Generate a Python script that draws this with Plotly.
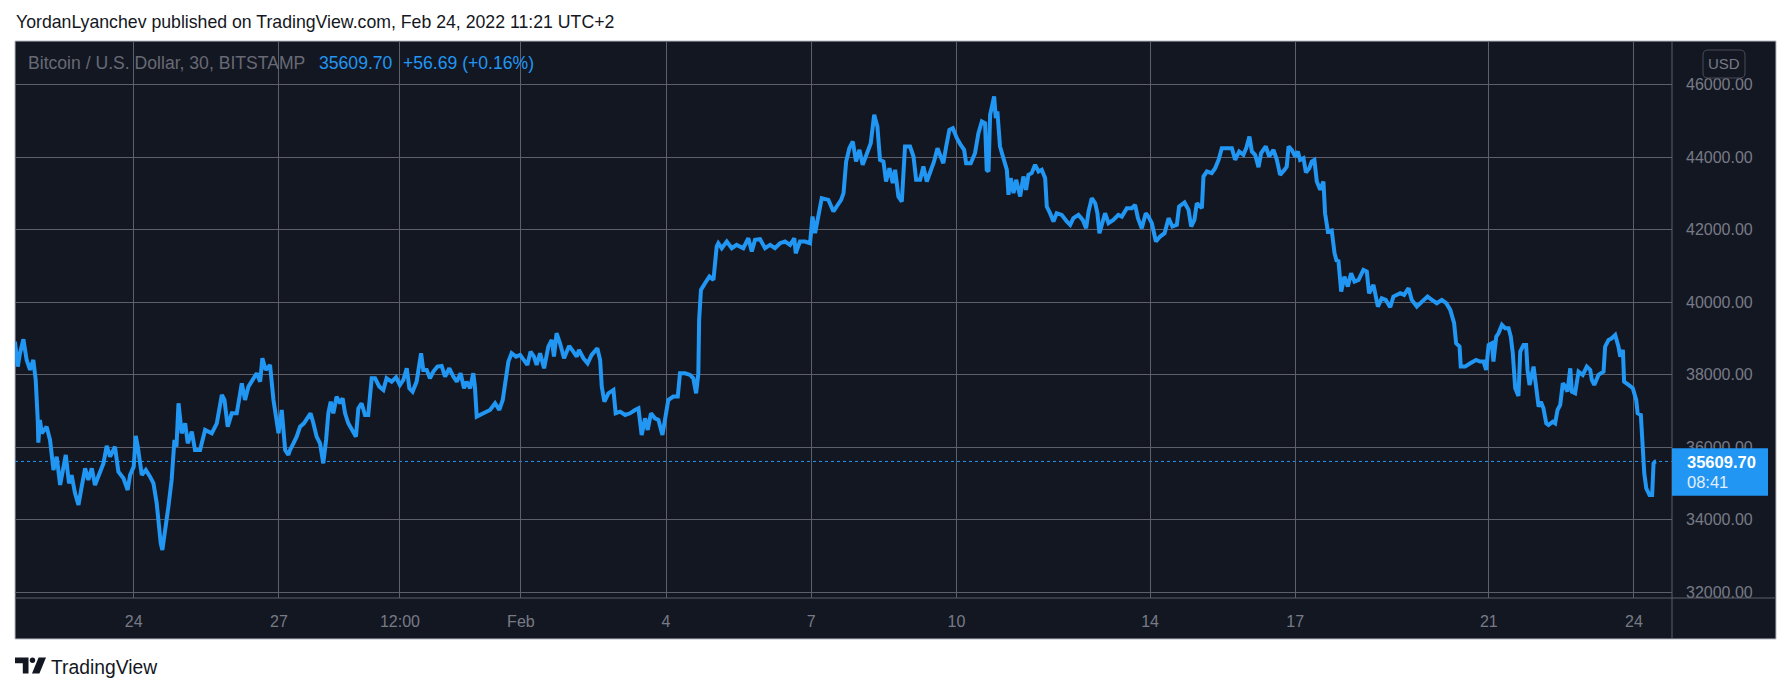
import numpy as np
import pandas as pd
import plotly.graph_objects as go

# ---------------- data (BTC/USD, 30m, Bitstamp) ----------------
base_time = "2022-01-24 00:00"
# hours relative to base_time
hours = [
    -58.9, -57.5, -56.4, -54.7, -53.1, -51.4, -49.8, -48.6, -47.6, -47.3, -46.5, -45.6, -43.2, -41.5,
    -39.8, -38.2, -36.5, -34.9, -33.7, -32.1, -30.8, -29.1, -27.4, -25.8, -24.1, -22.5, -20.8, -19.2,
    -16.7, -15.0, -13.4, -11.7, -9.3, -7.6, -5.1, -3.0, -1.8, 0.0, 1.0, 2.0, 4.0, 6.0, 8.1, 9.8,
    11.4, 12.2, 13.4, 14.2, 15.5, 17.2, 18.8, 20.2, 21.2, 22.2, 23.8, 25.5, 26.8, 28.8, 30.4, 32.9,
    35.4, 38.7, 41.2, 43.7, 45.0, 46.6, 48.6, 51.1, 53.6, 55.2, 56.9, 58.9, 61.0, 62.7, 63.8, 65.5,
    67.6, 69.3, 70.4, 71.8, 73.4, 74.2, 75.1, 76.7,
    77.5, 79.2, 80.8, 82.5, 84.4, 86.6, 87.7, 89.1, 90.7, 92.4, 94.0, 95.4, 96.5, 97.7, 99.0, 100.6,
    102.3, 103.6, 104.8, 106.4, 108.6, 110.2, 111.4, 113.0, 114.7, 116.3, 118.0, 119.7, 121.8, 123.8,
    125.4, 127.9, 130.1, 132.0, 133.7, 135.4, 136.7, 138.3, 140.3, 141.1, 142.5, 143.6, 145.3, 146.9,
    148.6, 150.6, 152.7, 154.4, 156.5, 158.5, 160.2, 162.1, 163.8, 165.1, 166.8, 168.4, 169.2, 170.1,
    171.7, 174.2, 176.7, 179.2, 181.3, 183.0, 184.1, 185.8, 187.4, 189.6, 191.6, 193.2, 195.2, 196.8,
    198.5, 199.8, 201.5, 203.5, 205.6, 207.3, 208.4, 209.7, 211.4, 213.4,
    215.9, 218.0, 219.7, 220.8, 223.0, 225.1, 227.1, 229.9, 231.3, 232.1, 233.4, 235.4, 237.9, 239.0,
    241.2, 243.7, 246.1, 248.6, 250.3, 251.9, 253.6, 254.9, 256.5, 258.5, 260.2, 262.2, 263.5, 265.1,
    267.6, 269.8, 270.9, 273.4, 275.9, 277.5, 278.9, 280.0, 280.4, 281.3, 283.3, 285.5, 287.5, 289.1,
    289.9, 291.6, 294.1, 296.6, 299.0, 302.3, 304.8, 306.5, 308.1, 310.6, 313.1, 315.6, 318.0, 320.5,
    323.0, 325.5, 327.6, 328.3, 330.4, 332.9, 335.4, 336.6, 337.9, 339.5, 341.2, 344.5, 347.0, 348.6,
    350.8,
    352.0, 353.3, 354.9, 356.6, 358.2, 359.9, 361.5, 363.5, 365.5, 367.2, 368.8, 370.1, 371.8, 373.1,
    374.8, 376.4, 377.6, 379.2, 380.9, 382.5, 385.0, 386.7, 388.0, 390.0, 391.6, 393.3, 395.3, 396.9,
    398.6, 400.2, 401.5, 402.9, 404.5, 406.2, 408.2, 410.1, 411.8, 412.8, 415.1, 417.2, 418.9, 420.6,
    422.2, 423.0, 423.9, 424.7, 425.8, 426.7, 427.5, 428.3, 429.6, 431.3, 433.0, 433.8, 434.9, 436.3,
    437.6, 439.6, 441.2, 442.5, 443.7, 445.3, 447.0, 448.7, 450.3, 452.0, 452.8, 454.4, 456.1, 457.7,
    460.2, 462.7, 464.4, 466.0, 468.5, 470.6, 472.3, 473.5, 475.1, 476.8, 477.9, 478.9, 480.1, 481.7,
    483.4, 485.8, 488.3, 490.0,
    492.5, 495.0, 496.6, 498.0, 499.9, 501.9, 503.2, 504.9, 506.9, 509.0, 511.2, 513.2, 515.1, 517.3,
    518.4, 521.1, 523.1, 524.4, 526.0, 527.2, 529.7, 530.5, 532.2, 534.6, 536.3, 538.0, 539.6, 542.1,
    544.6, 546.2, 548.2, 550.3, 551.7, 553.3, 554.5, 556.1, 557.8, 559.1, 561.4, 563.1, 565.2, 566.9,
    568.5, 570.7, 571.8, 572.7, 574.3, 576.0, 577.3, 578.4, 580.1, 581.3, 583.0, 584.2, 585.5, 586.7,
    588.4, 590.0, 590.8, 592.2, 594.1, 595.5, 596.6, 597.4, 598.8, 600.4, 602.1, 603.7, 605.4, 607.4,
    609.8, 611.5, 612.6, 614.8, 617.0, 618.9, 620.9, 623.1, 624.7,
    628.1, 630.0, 632.2, 633.8, 636.3, 638.3, 639.6, 641.6, 643.8, 646.2, 648.7, 650.9, 652.9, 654.8,
    655.8, 657.5, 658.1, 660.3, 662.8, 665.7, 667.7, 669.4, 670.7, 671.9, 673.5, 674.3, 675.7, 676.8,
    678.5, 680.1, 681.8, 682.9, 683.9, 685.1, 686.7, 687.6, 689.2, 690.5, 691.2, 692.2, 694.2, 695.5,
    696.7, 697.8, 699.1, 700.5, 701.6, 703.8, 704.9, 706.1, 707.4, 708.7, 709.9, 711.0, 712.4, 713.2,
    714.8, 716.5, 718.6, 720.6, 722.3, 723.1, 724.3, 726.4, 728.9, 729.7, 731.4, 733.0, 734.7, 736.3,
    737.2, 738.5, 739.1, 741.3, 743.4, 745.1, 745.8, 747.4, 748.4, 749.1, 750.1, 751.7, 753.0, 753.7,
    754.5, 755.0,
]
prices = [
    38916, 38226, 38594, 38981, 38410, 38134, 38410, 37858, 36754, 36129, 36754, 36386, 36570, 36202,
    35374, 35742, 34960, 35466, 35788, 35006, 35236, 34730, 34408, 34914, 35420, 35098, 35420, 34960,
    35282, 35558, 36037, 35742, 36018, 35328, 35144, 34822, 35236, 35466, 36313, 36018, 35236, 35374,
    35190, 35006, 34454, 33902, 33350, 33166, 33626, 34362, 35098, 36202, 36018, 37214, 36386, 36662,
    36110, 36432, 35926, 35926, 36478, 36386, 36662, 37444, 37306, 36570, 36938, 36938, 37766, 37306,
    37674, 37858, 38042, 37812, 38456, 38134, 38272, 37306, 36938, 36386, 37030, 36386, 35926, 35788,
    35926, 36110, 36294, 36570, 36662, 36846, 36938, 36662, 36294, 36110, 35558, 36202, 36938, 37260,
    36938, 37398, 37214, 37352, 36938, 36662, 36478, 36294, 37076, 37214, 36892, 36892, 37904, 37904,
    37674, 37582, 37904, 37812, 37932, 37720, 37858, 38180, 37628, 37536, 37812, 38134, 38594, 38134,
    38134, 37904, 38088, 38226, 38244, 37950, 38180, 37950, 37812, 38042, 37628, 37812, 37628, 38042,
    37674, 36846, 36892, 36984, 37030, 37214, 37030, 37306, 37766, 38364, 38594, 38502, 38548, 38410,
    38272, 38640, 38502, 38272, 38594, 38180, 38778, 38962, 38502, 39146, 38870, 38456,
    38797, 38640, 38502, 38686, 38456, 38318, 38548, 38732, 38410, 37674, 37260, 37490, 37582, 36938,
    36984, 36892, 36938, 37030, 37076, 36340, 36800, 36478, 36938, 36800, 36754, 36340, 36846, 37306,
    37398, 37398, 38042, 38042, 37996, 37904, 37490, 38042, 39514, 40342, 40526, 40710, 40618, 41538,
    41630, 41492, 41676, 41492, 41584, 41492, 41768, 41400, 41722, 41740, 41492, 41584, 41492, 41630,
    41676, 41584, 41768, 41354, 41676, 41676, 41630, 42366, 41906, 42458, 42872, 42826, 42504, 42642,
    42826,
    43010, 43884, 44252, 44436, 43884, 44206, 43792, 44068, 44390, 45172, 44850, 43930, 43884, 43332,
    43700, 43286, 43654, 42918, 42780, 44298, 44298, 44022, 43378, 43378, 43746, 43332, 43654, 43884,
    44252, 44022, 43838, 44298, 44758, 44804, 44528, 44344, 44206, 43838, 43838, 44114, 44666, 44988,
    44942, 43654, 43608, 45172, 45494, 45678, 45080, 45264, 44298, 43976, 43654, 42964, 43424, 43010,
    43378, 42918, 43470, 43102, 43516, 43562, 43792, 43608, 43654, 43424, 42642, 42458, 42228, 42458,
    42412, 42228, 42136, 42320, 42412, 42274, 42044, 42504, 42872, 42734, 42458, 41906, 42182, 42458,
    42182, 42274, 42412, 42366,
    42596, 42596, 42688, 42320, 42044, 42458, 42366, 42182, 41676, 41814, 41906, 42320, 42090, 42136,
    42642, 42753, 42550, 42090, 42274, 42734, 42596, 43470, 43608, 43562, 43700, 43930, 44252, 44252,
    44252, 43930, 44160, 44068, 44252, 44574, 44160, 44068, 43728, 44114, 44298, 44022, 44206, 43930,
    43516, 43654, 43746, 44298, 44206, 44022, 44160, 43930, 43976, 43581, 43700, 43884, 43930, 43332,
    43102, 43332, 42458, 41952, 41980, 41354, 41124, 41170, 40294, 40710, 40434, 40802, 40572, 40618,
    40894, 40848, 40250, 40480, 39882, 40112, 40066, 39864, 40158,
    40250, 40204, 40388, 40066, 39882, 39974, 40066, 40158, 40066, 39974, 40066, 39974, 39790, 39422,
    38870, 38778, 38226, 38226, 38318, 38410, 38364, 38364, 38134, 38824, 38870, 38364, 39054, 39146,
    39376, 39284, 39284, 39054, 38594, 37628, 37417, 38640, 38824, 38824, 38134, 37720, 38226, 37582,
    37122, 37260, 37076, 36662, 36616, 36708, 36662, 37030, 37168, 37766, 37674, 37536, 38180, 37536,
    37490, 38088, 37996, 38226, 38134, 37858, 37720, 37996, 38088, 38778, 38962, 39008, 39100, 38778,
    38502, 38686, 37812, 37720, 37628, 37306, 36938, 36892, 36018, 35282, 34868, 34684, 34684, 35558,
    35604, 35609.70,
]
x_tick_dates = ["2022-01-24 00:00", "2022-01-27 00:00", "2022-01-29 12:00", "2022-02-01 00:00",
                "2022-02-04 00:00", "2022-02-07 00:00", "2022-02-10 00:00", "2022-02-14 00:00",
                "2022-02-17 00:00", "2022-02-21 00:00", "2022-02-24 00:00"]
x_tick_text = ["24", "27", "12:00", "Feb", "4", "7", "10", "14", "17", "21", "24"]
y_ticks = [32000, 34000, 36000, 38000, 40000, 42000, 44000, 46000]

header_text = "YordanLyanchev published on TradingView.com, Feb 24, 2022 11:21 UTC+2"
symbol_text = "Bitcoin / U.S. Dollar, 30, BITSTAMP"
change_text = "+56.69 (+0.16%)"
countdown_text = "08:41"
currency_text = "USD"

# ---------------- figure ----------------
# The page body has an 8px margin; the figure is sized so that page coordinates match the reference.
OFF = 8
W, H = 1791 - 2 * OFF, 693 - 2 * OFF
L, R, T, B = 15, 1672, 41, 598  # plot area in page pixels

def px(x):
    return (x - L) / (R - L)

def py(y):
    return (B - y) / (B - T)

t0 = pd.Timestamp(base_time)
times = t0 + pd.to_timedelta(np.array(hours), unit="h")
last_price = prices[-1]

BG = "#131722"
BLUE = "#2196f3"
GRID = "#5d606b"
TXT = "#787b86"
FONT = "Liberation Sans"

fig = go.Figure()
fig.add_trace(go.Scatter(x=times, y=prices, mode="lines",
                         line=dict(color=BLUE, width=4), hoverinfo="skip", showlegend=False))

x_range = [t0 + pd.Timedelta(hours=-58.875), t0 + pd.Timedelta(hours=762.85)]

fig.update_layout(
    width=W, height=H,
    margin=dict(l=L - OFF, r=(W + OFF) - R, t=T - OFF, b=(H + OFF) - B, pad=0),
    paper_bgcolor="white", plot_bgcolor=BG,
    showlegend=False,
    font=dict(family=FONT, color=TXT),
    xaxis=dict(range=x_range, type="date", tickvals=list(pd.to_datetime(x_tick_dates, format="%Y-%m-%d %H:%M")),
               ticktext=x_tick_text,
               showgrid=True, gridcolor=GRID, gridwidth=1, zeroline=False, showline=False,
               ticks="", tickfont=dict(size=16, color=TXT, family=FONT), ticklabelstandoff=12,
               fixedrange=True),
    yaxis=dict(range=[31843, 47208], side="right", tickvals=y_ticks, tickformat=".2f",
               showgrid=True, gridcolor=GRID, gridwidth=1, zeroline=False, showline=False,
               ticks="", tickfont=dict(size=16, color=TXT, family=FONT), ticklabelstandoff=13,
               fixedrange=True),
)

shapes = []
# dark panel with light frame
shapes.append(dict(type="rect", xref="paper", yref="paper", x0=px(15), x1=px(1776), y0=py(639), y1=py(41),
                   fillcolor=BG, line=dict(color="#b8bbc4", width=1), layer="below"))
# separators
shapes.append(dict(type="line", xref="paper", yref="paper", x0=1, x1=1, y0=py(639), y1=py(41),
                   line=dict(color=GRID, width=1), layer="above"))
shapes.append(dict(type="line", xref="paper", yref="paper", x0=0, x1=px(1776), y0=0, y1=0,
                   line=dict(color=GRID, width=1), layer="above"))
# last price dotted line
shapes.append(dict(type="line", xref="paper", yref="y", x0=0, x1=1, y0=last_price, y1=last_price,
                   line=dict(color=BLUE, width=1, dash="dot"), layer="between"))
# price label box
shapes.append(dict(type="rect", xref="paper", yref="paper", x0=px(1672), x1=px(1768), y0=py(495.7), y1=py(448.3),
                   fillcolor=BLUE, line=dict(width=0), layer="above"))

# USD badge (rounded rect)
def rrect(x0, y0, x1, y1, r):
    pts = [
        f"M {px(x0 + r)},{py(y0)}", f"L {px(x1 - r)},{py(y0)}", f"Q {px(x1)},{py(y0)} {px(x1)},{py(y0 + r)}",
        f"L {px(x1)},{py(y1 - r)}", f"Q {px(x1)},{py(y1)} {px(x1 - r)},{py(y1)}",
        f"L {px(x0 + r)},{py(y1)}", f"Q {px(x0)},{py(y1)} {px(x0)},{py(y1 - r)}",
        f"L {px(x0)},{py(y0 + r)}", f"Q {px(x0)},{py(y0)} {px(x0 + r)},{py(y0)}", "Z",
    ]
    return " ".join(pts)

shapes.append(dict(type="path", xref="paper", yref="paper", path=rrect(1703, 50, 1745, 78, 5),
                   line=dict(color="#4a4d58", width=1), fillcolor=BG, layer="above"))

# TradingView logo mark
def poly(points):
    return "M " + " L ".join(f"{px(a)},{py(b)}" for a, b in points) + " Z"

LOGO = "#131722"
shapes.append(dict(type="path", xref="paper", yref="paper",
                   path=poly([(15, 657.5), (28.5, 657.5), (28.5, 673.5), (22.8, 673.5), (22.8, 663.2), (15, 663.2)]),
                   fillcolor=LOGO, line=dict(width=0), layer="above"))
shapes.append(dict(type="circle", xref="paper", yref="paper", x0=px(29.8), x1=px(35.2), y0=py(663), y1=py(657.6),
                   fillcolor=LOGO, line=dict(width=0), layer="above"))
shapes.append(dict(type="path", xref="paper", yref="paper",
                   path=poly([(38.6, 657.5), (46, 657.5), (39.4, 673.5), (32, 673.5)]),
                   fillcolor=LOGO, line=dict(width=0), layer="above"))
fig.update_layout(shapes=shapes)

ann = []
ann.append(dict(text=header_text, xref="paper", yref="paper", x=px(14), y=py(22), xanchor="left", yanchor="middle",
                showarrow=False, font=dict(size=17.7, color="#131722", family=FONT)))
ann.append(dict(text=symbol_text, xref="paper", yref="paper", x=px(26), y=py(63), xanchor="left", yanchor="middle",
                showarrow=False, font=dict(size=17.6, color="#676a75", family=FONT)))
ann.append(dict(text=f"{last_price:.2f}", xref="paper", yref="paper", x=px(317), y=py(63), xanchor="left",
                yanchor="middle", showarrow=False, font=dict(size=17.6, color=BLUE, family=FONT)))
ann.append(dict(text=change_text, xref="paper", yref="paper", x=px(401), y=py(63), xanchor="left",
                yanchor="middle", showarrow=False, font=dict(size=17.6, color=BLUE, family=FONT)))
ann.append(dict(text=f"<b>{last_price:.2f}</b>", xref="paper", yref="paper", x=px(1685), y=py(461.5),
                xanchor="left", yanchor="middle", showarrow=False, font=dict(size=16.5, color="white", family=FONT)))
ann.append(dict(text=countdown_text, xref="paper", yref="paper", x=px(1685), y=py(481.5),
                xanchor="left", yanchor="middle", showarrow=False, font=dict(size=16.5, color="#e3eefb", family=FONT)))
ann.append(dict(text=currency_text, xref="paper", yref="paper", x=px(1724), y=py(64), xanchor="center",
                yanchor="middle", showarrow=False, font=dict(size=15, color=TXT, family=FONT)))
ann.append(dict(text="TradingView", xref="paper", yref="paper", x=px(49), y=py(667), xanchor="left",
                yanchor="middle", showarrow=False, font=dict(size=19.3, color="#131722", family=FONT)))
fig.update_layout(annotations=ann)

fig.write_html("out.html")
